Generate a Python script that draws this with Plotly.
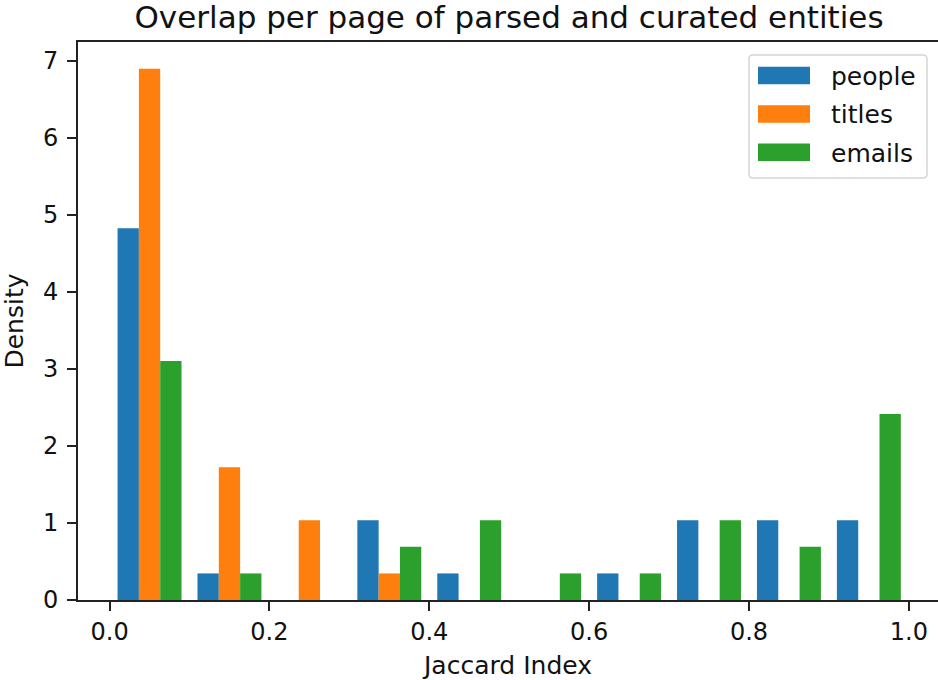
import plotly.graph_objects as go

# Histogram data (density), 10 bins from 0 to 1
bin_edges = [0.0, 0.1, 0.2, 0.3, 0.4, 0.5, 0.6, 0.7, 0.8, 0.9, 1.0]
people = [4.828, 0.345, 0.0, 1.034, 0.345, 0.0, 0.345, 1.034, 1.034, 1.034]
titles = [6.897, 1.724, 1.034, 0.345, 0.0, 0.0, 0.0, 0.0, 0.0, 0.0]
emails = [3.103, 0.345, 0.0, 0.690, 1.034, 0.345, 0.345, 1.034, 0.690, 2.414]
series_names = ["people", "titles", "emails"]
colors = ["#1f77b4", "#ff7f0e", "#2ca02c"]
x_ticks = [0.0, 0.2, 0.4, 0.6, 0.8, 1.0]

centers = [(a + b) / 2 for a, b in zip(bin_edges[:-1], bin_edges[1:])]

FONT = "DejaVu Sans"
TXT = "#111111"
W, H = 938, 680
ML, MR, MT, MB = 78, 0, 42, 80
PW, PH = W - ML - MR, H - MT - MB


def px(x):  # window pixels -> paper fraction
    return (x - ML) / PW


def py(y):
    return 1 - (y - MT) / PH


fig = go.Figure()
for name, vals, col in zip(series_names, [people, titles, emails], colors):
    fig.add_trace(go.Bar(x=centers, y=vals, name=name, marker_color=col,
                         marker_line_width=0, showlegend=False))

# legend (matplotlib-style box with wide patches)
shapes = []
annotations = []
bx0, bx1, by0, by1, r = 749, 927, 55, 178, 4
rx, ry = r / PW, r / PH
X0, X1, Y0, Y1 = px(bx0), px(bx1), py(by0), py(by1)
path = (f"M{X0+rx},{Y0} L{X1-rx},{Y0} Q{X1},{Y0} {X1},{Y0-ry} "
        f"L{X1},{Y1+ry} Q{X1},{Y1} {X1-rx},{Y1} L{X0+rx},{Y1} "
        f"Q{X0},{Y1} {X0},{Y1+ry} L{X0},{Y0-ry} Q{X0},{Y0} {X0+rx},{Y0} Z")
shapes.append(dict(type="path", xref="paper", yref="paper", path=path,
                   line=dict(color="#d5d5d5", width=1.5), fillcolor="rgba(255,255,255,0.85)",
                   layer="above"))
row_centers = [75.5, 114, 152.2]
for name, col, yc in zip(series_names, colors, row_centers):
    shapes.append(dict(type="rect", xref="paper", yref="paper",
                       x0=px(758), x1=px(810), y0=py(yc + 8.8), y1=py(yc - 8.8),
                       fillcolor=col, line=dict(width=0), layer="above"))
    annotations.append(dict(text=name, xref="paper", yref="paper",
                            x=px(829), y=py(yc + 1), xanchor="left", yanchor="middle",
                            showarrow=False, font=dict(family=FONT, size=25, color=TXT)))

fig.update_layout(
    width=W, height=H,
    margin=dict(l=ML, r=MR, t=MT, b=MB, autoexpand=False),
    paper_bgcolor="white", plot_bgcolor="white",
    barmode="group", bargap=0.2, bargroupgap=0,
    showlegend=False,
    font=dict(family=FONT, size=25, color=TXT),
    title=dict(text="Overlap per page of parsed and curated entities",
               x=px(509), xanchor="center", xref="paper",
               y=1, yref="paper", yanchor="bottom",
               pad=dict(b=14),
               font=dict(family=FONT, size=31, color=TXT)),
    xaxis=dict(range=[-0.0395, 1.0365], tickvals=x_ticks,
               tickformat=".1f", ticks="outside", ticklen=9, tickwidth=2,
               tickcolor="#222", showline=True, linewidth=2, linecolor="#222",
               mirror=True, showgrid=False, zeroline=False, automargin=False,
               tickfont=dict(size=24, color=TXT),
               title=dict(text="Jaccard Index", standoff=14, font=dict(size=25, color=TXT))),
    yaxis=dict(range=[0, 7.245], dtick=1, ticks="outside", ticklen=9, tickwidth=2,
               tickcolor="#222", showline=True, linewidth=2, linecolor="#222",
               mirror=False, showgrid=False, zeroline=False, automargin=False,
               ticklabelstandoff=4,
               tickfont=dict(size=24, color=TXT),
               title=dict(text="Density", standoff=22, font=dict(size=25, color=TXT))),
    shapes=shapes,
    annotations=annotations,
)

fig.write_html("out.html", config={"displayModeBar": False},
               post_script="document.body.style.margin='0';document.body.style.overflow='hidden';")
